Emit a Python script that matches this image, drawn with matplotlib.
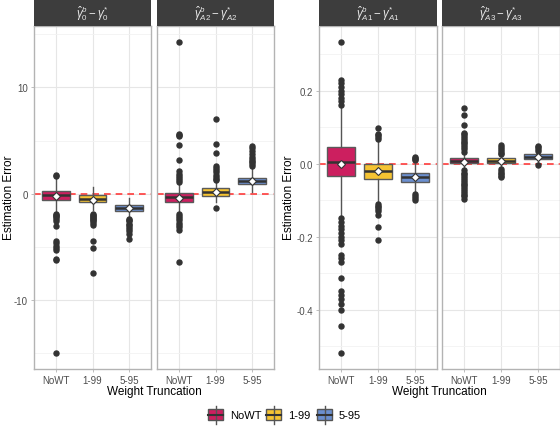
import matplotlib
matplotlib.use('Agg')
import matplotlib.pyplot as plt
from matplotlib.patches import Rectangle
from matplotlib.ticker import MultipleLocator

plt.rcParams['font.family'] = ['Liberation Sans', 'DejaVu Sans']
plt.rcParams['mathtext.fontset'] = 'custom'
plt.rcParams['mathtext.rm'] = 'Liberation Sans'
plt.rcParams['mathtext.it'] = 'Liberation Sans:italic'

categories = ['NoWT', '1-99', '5-95']
colors = ['#CC1F5F', '#F5C332', '#6B8FCF']

# ---- gamma_0 ----
g0_whislo = [-1.7, -1.5, -2.2]
g0_q1 = [-0.59, -0.78, -1.59]
g0_med = [-0.16, -0.5, -1.31]
g0_q3 = [0.28, -0.16, -1.03]
g0_whishi = [1.55, 0.6, -0.4]
g0_mean = [-0.25, -0.55, -1.35]
g0_fliers = [
    [1.7, 1.8, -1.9, -2.0, -2.1, -2.2, -2.4, -2.6, -3.0, -4.4, -4.6, -4.9, -5.1, -5.3, -6.1, -6.2, -15.0],
    [-1.9, -2.0, -2.1, -2.2, -2.3, -2.4, -2.5, -2.6, -2.7, -2.9, -4.4, -5.05, -7.4],
    [-2.35, -2.5, -2.6, -2.8, -2.9, -3.1, -3.3, -3.5, -3.75, -4.25],
]

# ---- gamma_A2 ----
a2_whislo = [-1.7, -0.75, 0.2]
a2_q1 = [-0.78, -0.22, 0.9]
a2_med = [-0.33, 0.16, 1.2]
a2_q3 = [0.09, 0.53, 1.47]
a2_whishi = [1.05, 1.15, 2.5]
a2_mean = [-0.35, 0.2, 1.2]
a2_fliers = [
    [1.15, 1.3, 1.5, 1.7, 1.9, 2.1, 3.2, 4.6, 5.4, 5.5, 5.6, 14.3,
     -1.9, -2.1, -2.3, -2.5, -2.7, -2.9, -3.1, -3.4, -6.4],
    [1.25, 1.4, 1.6, 1.8, 2.0, 2.2, 2.4, 2.6, 3.8, 4.7, 7.0, -1.3],
    [2.65, 2.8, 2.95, 3.1, 3.3, 3.5, 3.7, 4.0, 4.3, 4.5],
]

# ---- gamma_A1 ----
a1_whislo = [-0.145, -0.105, -0.078]
a1_q1 = [-0.033, -0.043, -0.05]
a1_med = [0.005, -0.021, -0.038]
a1_q3 = [0.044, 0.0, -0.026]
a1_whishi = [0.155, 0.065, 0.0]
a1_mean = [0.0, -0.02, -0.037]
a1_fliers = [
    [0.16, 0.17, 0.18, 0.19, 0.20, 0.21, 0.22, 0.23, 0.334,
     -0.15, -0.16, -0.17, -0.18, -0.19, -0.20, -0.21, -0.22, -0.25, -0.26, -0.27,
     -0.314, -0.35, -0.36, -0.37, -0.386, -0.40, -0.446, -0.52],
    [0.068, 0.072, 0.077, 0.082, 0.098, -0.11, -0.115, -0.12, -0.125, -0.13, -0.14, -0.173, -0.21],
    [0.009, 0.012, 0.015, 0.018, -0.084, -0.09, -0.095, -0.1],
]

# ---- gamma_A3 ----
a3_whislo = [-0.015, -0.012, 0.0]
a3_q1 = [0.001, 0.001, 0.013]
a3_med = [0.007, 0.008, 0.019]
a3_q3 = [0.016, 0.015, 0.025]
a3_whishi = [0.03, 0.022, 0.032]
a3_mean = [0.005, 0.006, 0.018]
a3_fliers = [
    [0.032, 0.04, 0.045, 0.05, 0.055, 0.06, 0.065, 0.07, 0.075, 0.08, 0.085, 0.105, 0.134, 0.153,
     -0.018, -0.025, -0.03, -0.035, -0.04, -0.045, -0.05, -0.055, -0.06, -0.065, -0.07,
     -0.075, -0.08, -0.085, -0.09, -0.098],
    [0.025, 0.03, 0.035, 0.04, 0.045, 0.05, -0.015, -0.02, -0.025, -0.03, -0.035, -0.038],
    [0.035, 0.04, 0.044, 0.048, -0.004],
]

strip_labels = [r'$\hat{\gamma}^{b}_{0} - \gamma^{*}_{0}$',
                r'$\hat{\gamma}^{b}_{A2} - \gamma^{*}_{A2}$',
                r'$\hat{\gamma}^{b}_{A1} - \gamma^{*}_{A1}$',
                r'$\hat{\gamma}^{b}_{A3} - \gamma^{*}_{A3}$']

W, H = 560, 431
fig = plt.figure(figsize=(W / 100, H / 100), dpi=100)


def rect(x0, y0, x1, y1):
    return [x0 / W, 1 - y1 / H, (x1 - x0) / W, (y1 - y0) / H]


def make_stats(whislo, q1, med, q3, whishi, mean, fliers):
    out = []
    for i in range(len(categories)):
        out.append(dict(whislo=whislo[i], q1=q1[i], med=med[i], q3=q3[i],
                        whishi=whishi[i], mean=mean[i], fliers=fliers[i]))
    return out


def draw_panel(ax, stats, label, ylim, major, minor, show_y, fmt):
    ax.axhline(0, color='#FF3B3B', lw=1.2, ls=(0, (4, 3)), zorder=1)
    bp = ax.bxp(stats, positions=[1, 2, 3], widths=0.75, patch_artist=True,
                showcaps=False, showmeans=True, manage_ticks=False,
                boxprops=dict(edgecolor='#5a5a5a', linewidth=1.0),
                whiskerprops=dict(color='#555555', linewidth=1.0),
                medianprops=dict(color='#333333', linewidth=1.8),
                meanprops=dict(marker='D', markerfacecolor='white',
                               markeredgecolor='#333333', markersize=4.3, markeredgewidth=0.8),
                flierprops=dict(marker='o', markerfacecolor='#333333',
                                markeredgecolor='#333333', markersize=3.6))
    for patch, c in zip(bp['boxes'], colors):
        patch.set_facecolor(c)
        patch.set_zorder(2)
    ax.set_xlim(0.4, 3.6)
    ax.set_ylim(ylim)
    ax.set_xticks([1, 2, 3])
    ax.set_xticklabels(categories)
    ax.yaxis.set_major_locator(MultipleLocator(major))
    ax.yaxis.set_minor_locator(MultipleLocator(minor))
    ax.yaxis.set_major_formatter(fmt)
    ax.grid(True, which='major', color='#e6e6e6', lw=0.8, zorder=0)
    ax.grid(True, which='minor', axis='y', color='#f2f2f2', lw=0.6, zorder=0)
    ax.set_axisbelow(True)
    ax.tick_params(axis='both', which='major', labelsize=7, labelcolor='#4d4d4d',
                   color='#b3b3b3', length=2.5, width=0.6, pad=2)
    ax.tick_params(axis='y', which='minor', length=0)
    if not show_y:
        ax.tick_params(axis='y', which='both', left=False, labelleft=False)
    for s in ax.spines.values():
        s.set_color('#b3b3b3')
        s.set_linewidth(1.0)
    pos = ax.get_position()
    sax = fig.add_axes([pos.x0, pos.y1, pos.width, 27 / H])
    sax.set_facecolor('#3d3d3d')
    sax.set_xticks([])
    sax.set_yticks([])
    for s in sax.spines.values():
        s.set_visible(False)
    sax.text(0.5, 0.5, label, color='#e8e8e8', fontsize=8.3,
             ha='center', va='center', transform=sax.transAxes)


def lim(groups):
    vals = []
    for g in groups:
        for lst in g:
            vals.extend(lst)
    lo, hi = min(vals), max(vals)
    pad = (hi - lo) * 0.05
    return (lo - pad, hi + pad)


left_lim = lim([g0_fliers, a2_fliers])
right_lim = lim([a1_fliers, a3_fliers])

fmt_int = matplotlib.ticker.FuncFormatter(lambda v, p: '%d' % round(v))
fmt_dec = matplotlib.ticker.FuncFormatter(lambda v, p: '%.1f' % v)

ax1 = fig.add_axes(rect(34, 27, 151, 370))
draw_panel(ax1, make_stats(g0_whislo, g0_q1, g0_med, g0_q3, g0_whishi, g0_mean, g0_fliers),
           strip_labels[0], left_lim, 10, 5, True, fmt_int)
ax2 = fig.add_axes(rect(157, 27, 274, 370))
draw_panel(ax2, make_stats(a2_whislo, a2_q1, a2_med, a2_q3, a2_whishi, a2_mean, a2_fliers),
           strip_labels[1], left_lim, 10, 5, False, fmt_int)
ax3 = fig.add_axes(rect(319, 27, 437, 370))
draw_panel(ax3, make_stats(a1_whislo, a1_q1, a1_med, a1_q3, a1_whishi, a1_mean, a1_fliers),
           strip_labels[2], right_lim, 0.2, 0.1, True, fmt_dec)
ax4 = fig.add_axes(rect(442, 27, 560, 370))
draw_panel(ax4, make_stats(a3_whislo, a3_q1, a3_med, a3_q3, a3_whishi, a3_mean, a3_fliers),
           strip_labels[3], right_lim, 0.2, 0.1, False, fmt_dec)

# axis titles
for xc in [154 / W, 439.5 / W]:
    fig.text(xc, 1 - 392 / H, 'Weight Truncation', ha='center', va='center',
             fontsize=8.5, color='black')
for xc in [9 / W, 289 / W]:
    fig.text(xc, 1 - 198 / H, 'Estimation Error', ha='center', va='center',
             rotation=90, fontsize=8.5, color='black')

# legend
lax = fig.add_axes([0, 0, 1, 1], zorder=-1)
lax.set_xlim(0, W)
lax.set_ylim(H, 0)
lax.axis('off')
key_x = [208, 266, 317]
for kx, c, name in zip(key_x, colors, categories):
    lax.plot([kx + 7.5, kx + 7.5], [407, 425], color='#555555', lw=1.0)
    lax.add_patch(Rectangle((kx, 410.5), 15, 11, facecolor=c, edgecolor='#555555', lw=1.0))
    lax.plot([kx, kx + 15], [416, 416], color='#333333', lw=1.5)
    lax.text(kx + 22, 416, name, ha='left', va='center', fontsize=8, color='black')

fig.savefig('out.png', dpi=100)
